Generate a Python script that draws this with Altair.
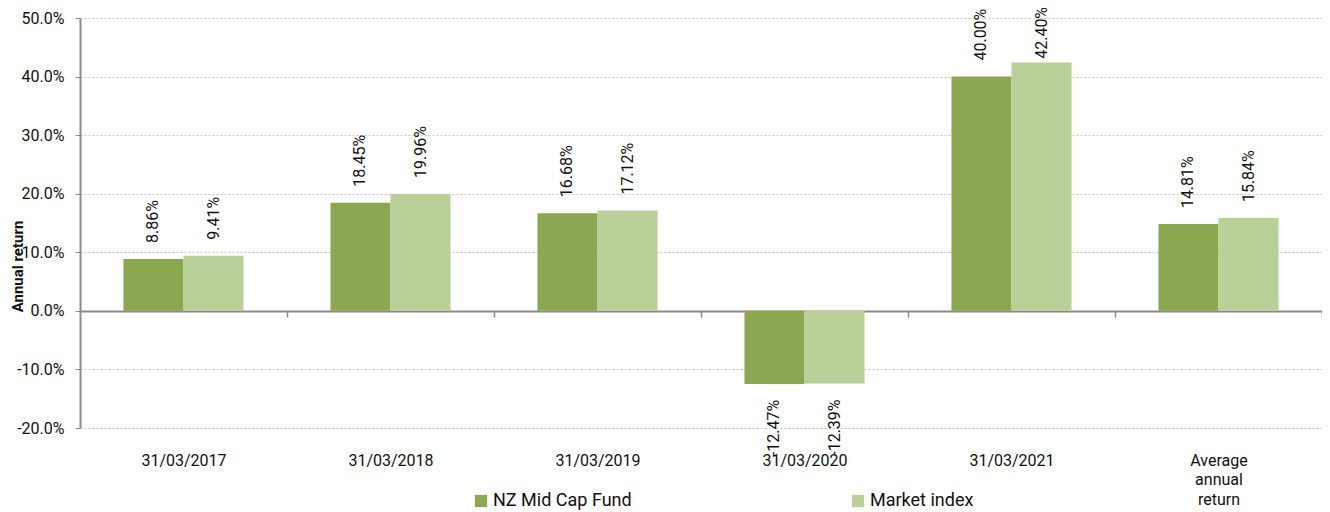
import altair as alt
import pandas as pd

categories = ["31/03/2017", "31/03/2018", "31/03/2019", "31/03/2020", "31/03/2021", "Average annual return"]
fund = [8.86, 18.45, 16.68, -12.47, 40.00, 14.81]
market = [9.41, 19.96, 17.12, -12.39, 42.40, 15.84]
series = ["NZ Mid Cap Fund", "Market index"]
colors = ["#8BA750", "#BBD098"]

rows = []
for c, f, m in zip(categories, fund, market):
    rows.append({"cat": c, "series": series[0], "v": f / 100})
    rows.append({"cat": c, "series": series[1], "v": m / 100})
df = pd.DataFrame(rows)

FONT = "Roboto"
W, H = 1242, 410

x = alt.X("cat:N", sort=categories, title=None,
          scale=alt.Scale(paddingInner=0.42, paddingOuter=0.21),
          axis=alt.Axis(offset=-117, bandPosition=1, tickOffset=43.5, labelOffset=-43.5,
                        domainColor="#8c8c8c", domainWidth=2,
                        tickColor="#8c8c8c", tickWidth=1.5, tickSize=6, labelPadding=135,
                        labelAngle=0, labelFont=FONT, labelFontSize=16, labelColor="#111",
                        labelBaseline="top", labelLineHeight=19.5,
                        labelExpr="datum.label == 'Average annual return' ? ['Average','annual','return'] : datum.label"))
xo = alt.XOffset("series:N", sort=series, scale=alt.Scale(paddingInner=0, paddingOuter=0))
y = alt.Y("v:Q", title="Annual return",
          scale=alt.Scale(domain=[-0.2, 0.5], nice=False),
          axis=alt.Axis(values=[-0.2, -0.1, 0, 0.1, 0.2, 0.3, 0.4, 0.5], format=".1%",
                        labelExpr="replace(datum.label, '\u2212', '-')",
                        labelFont=FONT, labelFontSize=16, labelColor="#111", labelPadding=11,
                        tickSize=5, tickColor="#8c8c8c", domainColor="#8c8c8c", domainWidth=2,
                        gridColor="#c4c4c4", gridDash=[2, 2], gridWidth=1,
                        titleFont=FONT, titleFontSize=15, titleFontWeight="bold", titleColor="#111",
                        titleAngle=270, titleX=-63, titleY=248, titleAlign="center",
                        titleBaseline="middle"))
color = alt.Color("series:N", sort=series, scale=alt.Scale(domain=series, range=colors),
                  legend=alt.Legend(title=None, orient="none", legendX=392, legendY=474,
                                    direction="horizontal", symbolType="square", symbolSize=150,
                                    symbolStrokeWidth=0, labelFont=FONT, labelFontSize=18,
                                    labelColor="#111", columnPadding=217, labelOffset=3))

bars = alt.Chart(df).mark_bar(opacity=1).encode(x=x, xOffset=xo, y=y, color=color)

base = alt.Chart(df).transform_calculate(
    lbl="replace(format(datum.v, '.2%'), '\u2212', '-')",
    ly="min(datum.v, 0.403)",
)

pos = base.transform_filter("datum.v >= 0").mark_text(
    angle=270, align="left", baseline="middle", dx=16, font=FONT, fontSize=16, color="#111"
).encode(x=alt.X("cat:N", sort=categories), xOffset=xo, y="ly:Q", text="lbl:N")

neg = base.transform_filter("datum.v < 0").mark_text(
    angle=270, align="right", baseline="middle", dx=-16, font=FONT, fontSize=16, color="#111"
).encode(x=alt.X("cat:N", sort=categories), xOffset=xo, y="v:Q", text="lbl:N")

chart = alt.layer(bars, pos, neg).properties(
    width=W, height=H,
    autosize=alt.AutoSizeParams(type="none"),
    padding={"left": 72, "top": 10, "right": 0, "bottom": 86},
).configure_view(stroke=None).configure_axis(grid=False).configure_axisY(grid=True)

chart.save("out.html", embed_options={"renderer": "svg", "actions": False})
